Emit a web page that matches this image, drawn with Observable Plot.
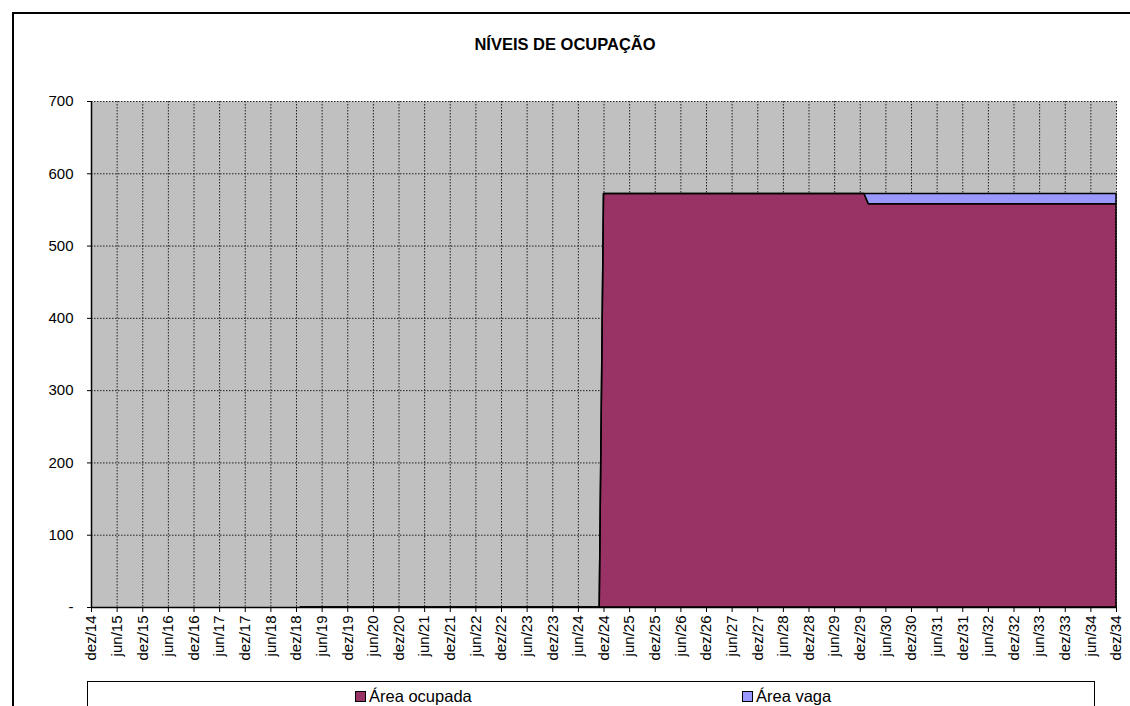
<!DOCTYPE html>
<html>
<head>
<meta charset="utf-8">
<script src="https://cdn.jsdelivr.net/npm/d3@7"></script>
<script src="https://cdn.jsdelivr.net/npm/@observablehq/plot@0.6"></script>
<style>
  body { margin: 0; background: #fff; font-family: "Liberation Sans", Arial, sans-serif; }
  #wrap { position: relative; width: 1130px; height: 706px; overflow: hidden; }
  #frame { position: absolute; left: 12px; top: 12px; width: 1300px; height: 900px; border: 2px solid #000; box-sizing: border-box; }
  #title { position: absolute; left: 0; top: 35px; width: 1130px; text-align: center; font-weight: bold; font-size: 16.5px; color: #000; }
  #chart { position: absolute; left: 0; top: 80px; }
  #legend { position: absolute; left: 87px; top: 681px; width: 1008px; height: 60px; border: 1px solid #000; box-sizing: border-box; background: #fff; font-size: 16.5px; }
  .item { position: absolute; top: 5px; display: flex; align-items: center; }
  .sw { width: 9px; height: 9px; border: 1px solid #000; margin-right: 3px; }
</style>
</head>
<body>
<div id="wrap">
  <div id="frame"></div>
  <div id="title">NÍVEIS DE OCUPAÇÃO</div>
  <div id="chart"></div>
  <div id="legend"></div>
</div>
<script>
// Tick labels (every 6 months)
const tickLabels = ["dez/14","jun/15","dez/15","jun/16","dez/16","jun/17","dez/17","jun/18","dez/18","jun/19",
  "dez/19","jun/20","dez/20","jun/21","dez/21","jun/22","dez/22","jun/23","dez/23","jun/24",
  "dez/24","jun/25","dez/25","jun/26","dez/26","jun/27","dez/27","jun/28","dez/28","jun/29",
  "dez/29","jun/30","dez/30","jun/31","dez/31","jun/32","dez/32","jun/33","dez/33","jun/34","dez/34"];

// Breakpoint months and series values
const meses = ["jan/19","nov/24","dez/24","jan/30","fev/30","dez/34"];
const areaOcupada = [0, 0, 572, 572, 558, 558];
const areaVaga = [0, 0, 0, 0, 14, 14];

const series = ["Área ocupada", "Área vaga"];
const colors = ["#993366", "#9999FF"];
const yTicks = [0, 100, 200, 300, 400, 500, 600, 700];

const monthNames = ["jan","fev","mar","abr","mai","jun","jul","ago","set","out","nov","dez"];
function idx(label) {
  const [m, y] = label.split("/");
  return (+y - 14) * 12 + monthNames.indexOf(m) - 11;
}

const data = [];
meses.forEach((m, i) => {
  data.push({m: idx(m), v: areaOcupada[i], serie: series[0]});
  data.push({m: idx(m), v: areaVaga[i], serie: series[1]});
});
const tickPos = tickLabels.map(idx);

const font = "'Liberation Sans', Arial, sans-serif";

const chart = Plot.plot({
  width: 1130,
  height: 600,
  marginLeft: 91,
  marginRight: 14,
  marginTop: 21,
  marginBottom: 73,
  style: {fontFamily: font, fontSize: "15px", background: "transparent", color: "#000"},
  x: {domain: [0, 240]},
  y: {domain: [0, 700]},
  color: {domain: series, range: colors},
  marks: [
    Plot.frame({fill: "#C0C0C0", stroke: null}),
    Plot.ruleX(tickPos, {stroke: "#222", strokeDasharray: "1.5,1.5", strokeWidth: 1}),
    Plot.ruleY(yTicks, {stroke: "#222", strokeDasharray: "1.5,1.5", strokeWidth: 1}),
    Plot.areaY(data, {x: "m", y: "v", fill: "serie", order: series, stroke: "#000", strokeWidth: 1.5}),
    Plot.ruleX([0], {stroke: "#000", strokeWidth: 1.5}),
    Plot.ruleY([0], {stroke: "#000", strokeWidth: 1.5}),
    Plot.axisY({ticks: yTicks, tickFormat: d => d === 0 ? "-" : String(d), tickSize: 4, tickPadding: 14, fontSize: 15, label: null}),
    Plot.axisX({ticks: tickPos, tickFormat: (d, i) => tickLabels[i], tickSize: 5, tickPadding: 3, tickRotate: -90, fontSize: 15, label: null})
  ]
});
d3.select(chart).selectAll("text").style("font-size", "15px");
document.getElementById("chart").appendChild(chart);

const legend = document.getElementById("legend");
const lx = [354, 741];
series.forEach((s, i) => {
  const it = document.createElement("div");
  it.className = "item";
  it.style.left = (lx[i] - 87) + "px";
  it.innerHTML = `<span class="sw" style="background:${colors[i]}"></span><span>${s}</span>`;
  legend.appendChild(it);
});
</script>
</body>
</html>
